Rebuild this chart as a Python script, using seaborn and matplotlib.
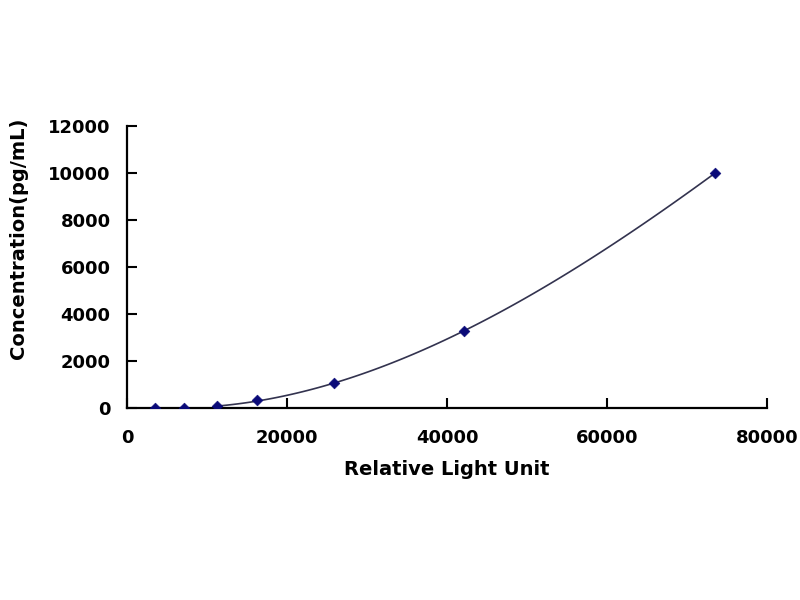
import numpy as np
import pandas as pd
import matplotlib
matplotlib.use('Agg')
import matplotlib.pyplot as plt
import seaborn as sns

# STANDARD CURVE POINTS
rlu = [3500, 7150, 11250, 16250, 25900, 42050, 73500]
conc = [0, 0, 70, 320, 1050, 3280, 10000]

x_ticks = [0, 20000, 40000, 60000, 80000]
y_ticks = [0, 2000, 4000, 6000, 8000, 10000, 12000]

std = pd.DataFrame({'rlu': rlu, 'conc': conc})

sns.set_style('white')
plt.rcParams['font.family'] = ['DejaVu Sans']
plt.rcParams['font.weight'] = 'bold'
plt.rcParams['text.color'] = 'black'
plt.rcParams['axes.labelcolor'] = 'black'

fig = plt.figure(figsize=(8, 6), dpi=100)
ax = fig.add_axes([0.159, 0.32, 0.8, 0.47])

# fitted curve through the upper points
sns.regplot(data=std.iloc[2:], x='rlu', y='conc', order=3, ci=None,
            scatter=False, truncate=True, ax=ax,
            line_kws={'color': '#33334f', 'lw': 1.2})
sns.scatterplot(data=std, x='rlu', y='conc', marker='D', s=30,
                color='#0a0a78', edgecolor='#0a0a78', zorder=3, ax=ax)

ax.set_xlim(0, 80000)
ax.set_ylim(0, 12000)
ax.set_xticks(x_ticks)
ax.set_yticks(y_ticks)
ax.tick_params(axis='both', direction='in', length=7, width=1.5,
               labelsize=13, colors='black', bottom=True, left=True)
ax.tick_params(axis='x', pad=15)
ax.tick_params(axis='y', pad=12)
for lab in ax.get_xticklabels() + ax.get_yticklabels():
    lab.set_fontweight('bold')

sns.despine(ax=ax)
for sp in ['left', 'bottom']:
    ax.spines[sp].set_linewidth(1.6)
    ax.spines[sp].set_color('black')

ax.set_xlabel('Relative Light Unit', fontsize=14, fontweight='bold', color='black')
ax.set_ylabel('Concentration(pg/mL)', fontsize=14, fontweight='bold', color='black')
ax.xaxis.set_label_coords(0.5, -0.218)
ax.xaxis.label.set_va('center')
ax.yaxis.set_label_coords(-0.17, 0.6)
ax.yaxis.label.set_va('center')

fig.savefig('out.png', dpi=100)
